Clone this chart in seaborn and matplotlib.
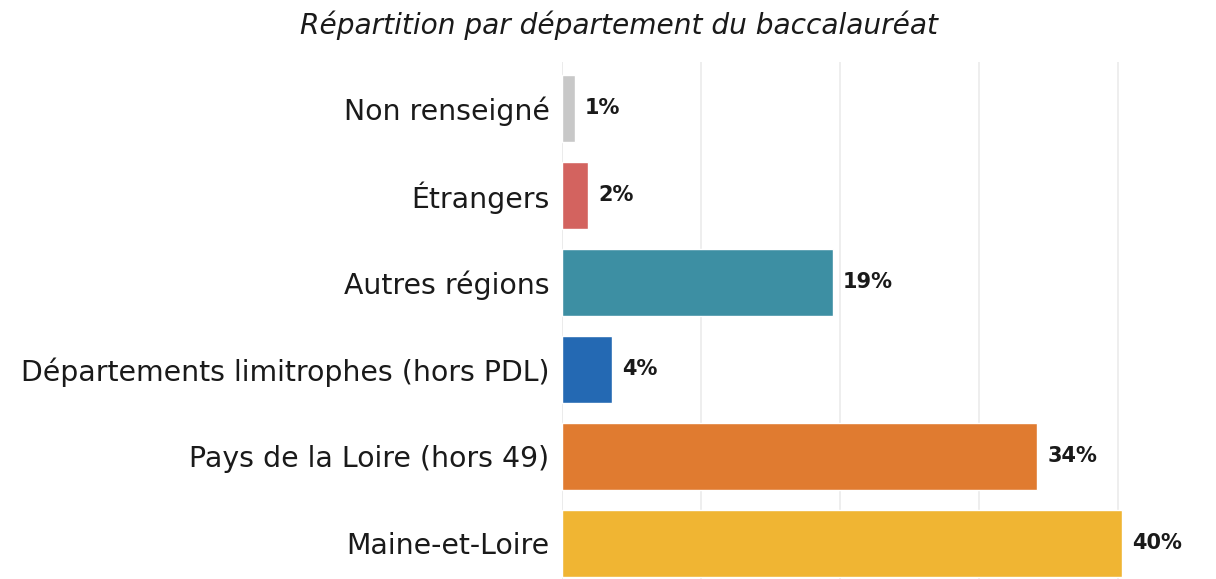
import matplotlib
matplotlib.use("Agg")
import matplotlib.pyplot as plt
import seaborn as sns
import pandas as pd

categories = ["Non renseigné", "Étrangers", "Autres régions",
              "Départements limitrophes (hors PDL)", "Pays de la Loire (hors 49)",
              "Maine-et-Loire"]
values = [0.9, 1.9, 19.5, 3.6, 34.2, 40.3]
value_labels = ["1%", "2%", "19%", "4%", "34%", "40%"]
colors = ["#c8c8c8", "#d3635f", "#3d8fa3", "#2469b3", "#e07b30", "#f0b533"]
title = "Répartition par département du baccalauréat"

df = pd.DataFrame({"cat": categories, "val": values})

sns.set_theme(style="white")
plt.rcParams["font.family"] = ["DejaVu Sans"]

fig = plt.figure(figsize=(12.16, 5.79), dpi=100)
ax = fig.add_axes([562/1216, 0, (1200-562)/1216, (579-62)/579])

sns.barplot(data=df, y="cat", x="val", hue="cat", palette=colors, orient="h",
            legend=False, width=0.77, ax=ax, saturation=1)

ax.set_xlim(0, (1200-562)/139*10)
ax.set_ylim(5.41, -0.53)
ax.set_xticks([0, 10, 20, 30, 40])
ax.set_xticklabels([])
ax.xaxis.grid(True, color="#ebebeb", linewidth=1.2)
ax.set_axisbelow(True)
ax.axvline(0, color="#ebebeb", linewidth=1.2, zorder=0)
for s in ax.spines.values():
    s.set_visible(False)
ax.tick_params(axis="both", length=0)
ax.tick_params(axis="y", labelsize=20.4, pad=9, labelcolor="#1a1a1a")
ax.set_xlabel("")
ax.set_ylabel("")

for i, (v, lab) in enumerate(zip(values, value_labels)):
    ax.text(v + 0.7, i, lab, va="center", ha="left", fontsize=15,
            fontweight="bold", color="#1a1a1a")

fig.text(619/1216, 1 - 25/579, title, ha="center", va="center", fontsize=20.2,
         style="italic", color="#1a1a1a")

fig.savefig("out.png", dpi=100)
